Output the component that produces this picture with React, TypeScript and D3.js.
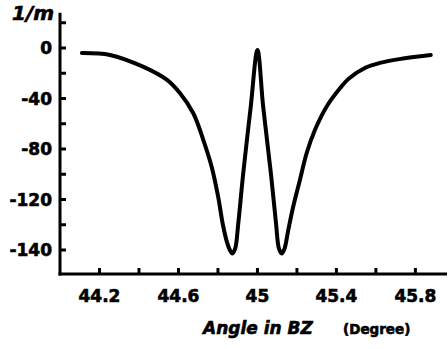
import * as d3 from 'd3';

// curve (angle in degrees, 1/m)
const angle = [
  44.111, 44.253, 44.42, 44.542, 44.608, 44.675, 44.726, 44.768, 44.8, 44.825,
  44.846, 44.86, 44.873, 44.887, 44.903, 44.928, 44.966, 45.0, 45.029, 45.068,
  45.094, 45.109, 45.123, 45.137, 45.156, 45.181, 45.215, 45.249, 45.291, 45.35,
  45.418, 45.465, 45.549, 45.62, 45.718, 45.878,
];
const invRadius = [
  -4, -5.5, -14.8, -25.3, -35.9, -51.7, -72.9, -94, -117, -130,
  -137, -140, -141.4, -139.5, -129.4, -99.2, -46.5, -1.5, -46.5, -99.2,
  -129.4, -139.5, -141.4, -139.5, -132.1, -122.9, -104.6, -83.4, -65, -46.5,
  -31.9, -24, -15.5, -11.8, -8.8, -5.5,
];

const yTickValues = [0, -40, -80, -120, -140];
const yTickLabels = ['0', '-40', '-80', '-120', '-140'];
const yMinorTicks = [20, -20, -60, -100, -130];

const xTickValues = [44.2, 44.4, 44.6, 44.8, 45, 45.2, 45.4, 45.6, 45.8];
const xLabelValues = [44.2, 44.6, 45, 45.4, 45.8];
const xLabels = ['44.2', '44.6', '45', '45.4', '45.8'];

const W = 448;
const H = 349;
const font = '"DejaVu Sans", Verdana, sans-serif';

export default function App() {
  const x = d3.scaleLinear().domain([44, 45.96]).range([60, 447]);
  // the axis labels are evenly spaced, but the last step is only 20
  const y = d3.scaleLinear().domain([0, -120, -140]).range([48, 199.5, 250]);
  const axisY = 274;
  const axisX = 60;

  const line = d3
    .line<number>()
    .x((_, i) => x(angle[i]))
    .y(d => y(d))
    .curve(d3.curveCatmullRom.alpha(0.5));

  const txt = { fontFamily: font, fontWeight: 'bold', stroke: '#000', strokeWidth: 0.6 } as const;

  return (
    <div style={{ position: 'fixed', left: 0, top: 0 }}>
      <svg width={W} height={H} style={{ background: '#fff', display: 'block' }}>
        {/* y axis */}
        <line x1={axisX} x2={axisX} y1={y(28)} y2={axisY + 1.5} stroke="#000" strokeWidth={3} />
        {[...yTickValues, ...yMinorTicks].map(v => (
          <line key={'yt' + v} x1={axisX} x2={axisX + 6} y1={y(v)} y2={y(v)} stroke="#000" strokeWidth={3} />
        ))}
        {yTickLabels.map((t, i) => (
          <text key={'yl' + t} x={52} y={y(yTickValues[i])} dy="0.36em" textAnchor="end" fontSize={17} {...txt}>
            {t}
          </text>
        ))}
        <text x={12} y={20} fontStyle="italic" fontSize={20} {...txt}>
          1/m
        </text>

        {/* x axis */}
        <line x1={axisX - 1.5} x2={447} y1={axisY} y2={axisY} stroke="#000" strokeWidth={3} />
        {xTickValues.map(v => (
          <line key={'xt' + v} x1={x(v)} x2={x(v)} y1={axisY} y2={axisY - 6} stroke="#000" strokeWidth={3} />
        ))}
        {xLabels.map((t, i) => (
          <text key={'xl' + t} x={x(xLabelValues[i])} y={302} textAnchor="middle" fontSize={17} {...txt}>
            {t}
          </text>
        ))}
        <text x={203} y={334} fontStyle="italic" fontSize={17} {...txt}>
          Angle in BZ
        </text>
        <text x={343} y={334} fontSize={13.5} {...txt}>
          (Degree)
        </text>

        <path
          d={line(invRadius) ?? ''}
          fill="none"
          stroke="#000"
          strokeWidth={4}
          strokeLinejoin="round"
          strokeLinecap="round"
        />
      </svg>
    </div>
  );
}
